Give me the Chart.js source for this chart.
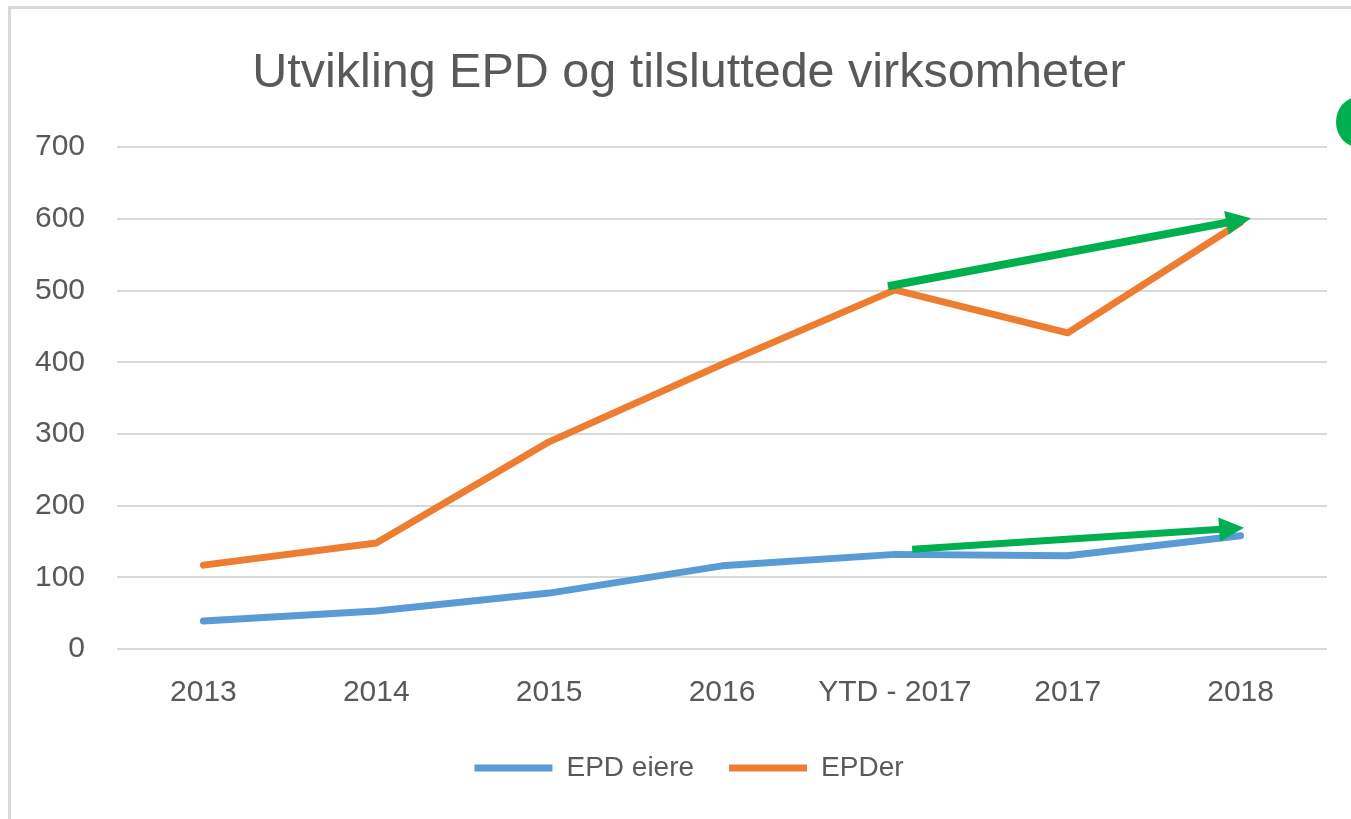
<!DOCTYPE html>
<html>
<head>
<meta charset="utf-8">
<script src="https://cdn.jsdelivr.net/npm/chart.js@4.4.1/dist/chart.umd.min.js"></script>
<style>
  html, body { margin: 0; padding: 0; background: #ffffff; overflow: hidden; width: 1351px; height: 819px; }
  #frame { position: absolute; left: 8px; top: 6px; width: 1420px; height: 900px; border: 3px solid #d9d9d9; box-sizing: border-box; background: #fff; }
  #wrap { position: absolute; left: 0; top: 0; width: 1356px; height: 810px; }
</style>
</head>
<body>
<div id="frame"><div id="wrap"><canvas id="c"></canvas></div></div>
<script>
// ---- data ----
const categories = ['2013', '2014', '2015', '2016', 'YTD - 2017', '2017', '2018'];
const epdEiere = [39, 53, 78, 116, 132, 130, 158];
const epder = [117, 148, 289, 397, 501, 441, 595];
const yTicks = [0, 100, 200, 300, 400, 500, 600, 700];
const seriesNames = ['EPD eiere', 'EPDer'];
const titleText = 'Utvikling EPD og tilsluttede virksomheter';

// trend arrows (annotation, in data units: [category index, value])
const trendArrowStart = [[3.96, 506], [4.10, 139]];
const trendArrowEnd = [[6.06, 601], [6.02, 169]];

const FONT = "'Liberation Sans', Arial, sans-serif";
const GREY = '#595959';

const arrowPlugin = {
  id: 'arrows',
  afterDatasetsDraw(chart) {
    const ctx = chart.ctx;
    const xs = chart.scales.x, ys = chart.scales.y;
    const widths = [8, 7];
    ctx.save();
    ctx.fillStyle = '#00B050';
    ctx.strokeStyle = '#00B050';
    for (let i = 0; i < trendArrowStart.length; i++) {
      const x0 = xs.getPixelForValue(trendArrowStart[i][0]);
      const y0 = ys.getPixelForValue(trendArrowStart[i][1]);
      const x1 = xs.getPixelForValue(trendArrowEnd[i][0]);
      const y1 = ys.getPixelForValue(trendArrowEnd[i][1]);
      const dx = x1 - x0, dy = y1 - y0;
      const len = Math.hypot(dx, dy);
      const ux = dx / len, uy = dy / len;
      const headLen = 25, headHalf = 12;
      const bx = x1 - ux * headLen, by = y1 - uy * headLen;
      ctx.lineWidth = widths[i];
      ctx.lineCap = 'butt';
      ctx.beginPath();
      ctx.moveTo(x0, y0);
      ctx.lineTo(bx + ux * 2, by + uy * 2);
      ctx.stroke();
      ctx.beginPath();
      ctx.moveTo(x1, y1);
      ctx.lineTo(bx - uy * headHalf, by + ux * headHalf);
      ctx.lineTo(bx + uy * headHalf, by - ux * headHalf);
      ctx.closePath();
      ctx.fill();
    }
    // green shape partly visible at the right edge
    ctx.beginPath();
    ctx.ellipse(1347, 113, 22, 25, 0, 0, Math.PI * 2);
    ctx.fill();
    ctx.restore();
  }
};

const chart = new Chart(document.getElementById('c'), {
  type: 'line',
  data: {
    labels: categories,
    datasets: [
      { label: seriesNames[0], data: epdEiere, borderColor: '#5B9BD5', backgroundColor: '#5B9BD5',
        borderWidth: 7, pointRadius: 0, tension: 0, borderJoinStyle: 'round', borderCapStyle: 'round', yAxisID: 'y' },
      { label: seriesNames[1], data: epder, borderColor: '#ED7D31', backgroundColor: '#ED7D31',
        borderWidth: 7, pointRadius: 0, tension: 0, borderJoinStyle: 'round', borderCapStyle: 'round', yAxisID: 'y' }
    ]
  },
  options: {
    responsive: true,
    maintainAspectRatio: false,
    animation: false,
    layout: { padding: { left: 0, right: 0, top: 0, bottom: 27 } },
    plugins: {
      title: {
        display: true, text: titleText, color: GREY,
        font: { family: FONT, size: 48.5, weight: 'normal', lineHeight: 1.2 },
        padding: { top: 36, bottom: 44 }
      },
      legend: {
        position: 'bottom',
        labels: {
          usePointStyle: true, pointStyle: 'line', pointStyleWidth: 78,
          color: GREY, padding: 35,
          font: { family: FONT, size: 28 }
        }
      },
      tooltip: { enabled: false }
    },
    scales: {
      x: {
        offset: true,
        afterFit(s) { s.height = 70; },
        grid: { display: false, drawTicks: false },
        border: { display: false },
        ticks: { color: GREY, font: { family: FONT, size: 30, lineHeight: 1.2 }, padding: 26, maxRotation: 0, autoSkip: false }
      },
      y: {
        min: 0, max: 700,
        afterBuildTicks(s) { s.ticks = yTicks.map(v => ({ value: v })); },
        afterFit(s) { s.width = 106; },
        grid: { color: '#d9d9d9', lineWidth: 2, drawTicks: false },
        border: { display: false },
        ticks: { color: GREY, font: { family: FONT, size: 30 }, padding: 32 }
      },
      y2: {
        position: 'right', display: true,
        afterFit(s) { s.width = 40; },
        grid: { display: false, drawTicks: false },
        border: { display: false },
        ticks: { display: false }
      }
    }
  },
  plugins: [arrowPlugin]
});
</script>
</body>
</html>
